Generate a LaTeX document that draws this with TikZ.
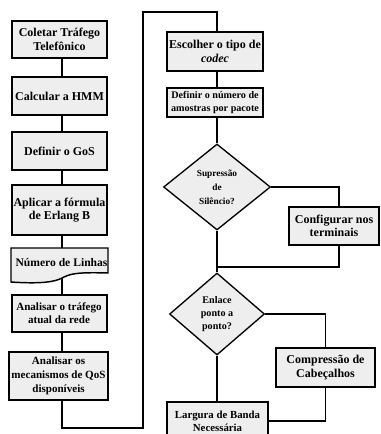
\documentclass[tikz,border=0pt]{standalone}
\usepackage{fontspec}
\setmainfont{Liberation Serif}
\usetikzlibrary{shapes.geometric}
\definecolor{boxfill}{HTML}{EEEEEE}
\tikzset{
  box/.style={draw=black, fill=boxfill, rectangle, inner sep=0pt, align=center, font=\bfseries\fontsize{9}{10}\selectfont},
  lbox/.style={box, line width=1.5pt, minimum width=71.25pt},
  rbox/.style={box, line width=1.1pt},
  dia/.style={draw=black, fill=boxfill, diamond, inner sep=0pt, aspect=1, line width=1pt, align=center},
  conn/.style={line width=1.1pt, black}
}
\begin{document}
\begin{tikzpicture}[x=0.75pt, y=-0.75pt]
\useasboundingbox (0,0) rectangle (380,434);
\clip (0,0) rectangle (380,434);
\coordinate (colL) at (62,0);
\coordinate (colR) at (217,0);
\coordinate (colC1) at (339,0);
\coordinate (loopA) at (143,428);
\coordinate (loopB) at (217,12);
\coordinate (merge) at (217,267);

% left column
\node[lbox, minimum height=27.75pt] (b1) at (59.5,39.5) {Coletar Tráfego\\Telefônico};
\node[lbox, minimum height=28.5pt] (b2) at (59.5,96) {Calcular a HMM};
\node[lbox, minimum height=28.5pt] (b3) at (59.5,151) {Definir o GoS};
\node[lbox, minimum height=37.5pt] (b4) at (59.5,210) {Aplicar a fórmula\\de Erlang B};
\draw[line width=1.1pt, fill=boxfill] (11,248) -- (108,248) -- (108,273)
  .. controls (75,272) and (70,274) .. (62,278)
  .. controls (55,282) and (40,284) .. (11,282) -- cycle;
\node[inner sep=0pt, minimum width=72pt, minimum height=22.5pt, font=\bfseries\fontsize{8.7}{10}\selectfont] (doc) at (61.5,263) {Número de Linhas};
\node[lbox, minimum height=27.75pt, font=\bfseries\fontsize{8.3}{10}\selectfont] (b6) at (59,313.5) {Analisar o tráfego\\atual da rede};
\node[lbox, minimum width=74.25pt, minimum height=36pt, font=\bfseries\fontsize{8.3}{10.5}\selectfont] (b7) at (58.5,376) {Analisar os\\mecanismos de QoS\\disponíveis};

% right column
\node[rbox, minimum width=72pt, minimum height=29.25pt] (r1) at (215,51.5) {Escolher o tipo de\\\textit{codec}};
\node[rbox, minimum width=72pt, minimum height=21.75pt, font=\bfseries\fontsize{7.6}{9.5}\selectfont] (r2) at (215,102.5) {Definir o número de\\amostras por pacote};
\node[dia, minimum width=80.25pt, minimum height=64.5pt, font=\bfseries\fontsize{7}{10.5}\selectfont] (d1) at (217,187) {Supressão\\de\\Silêncio?};
\node[rbox, minimum width=67.5pt, minimum height=28.5pt] (c1) at (334,226) {Configurar nos\\terminais};
\node[dia, minimum width=71.25pt, minimum height=61.5pt, font=\bfseries\fontsize{7.6}{9.8}\selectfont] (d2) at (217,314) {Enlace\\ponto a\\ponto?};
\node[rbox, minimum width=74.25pt, minimum height=29.25pt] (c2) at (325.5,367.5) {Compressão de\\Cabeçalhos};
\node[rbox, minimum width=75.75pt, minimum height=28.5pt, font=\bfseries\fontsize{8.1}{10}\selectfont] (r3) at (217.5,421) {Largura de Banda\\Necessária};

% connectors
\draw[conn] (b1.south -| colL) -- (b2.north -| colL);
\draw[conn] (b2.south -| colL) -- (b3.north -| colL);
\draw[conn] (b3.south -| colL) -- (b4.north -| colL);
\draw[conn] (b4.south -| colL) -- (doc.north -| colL);
\draw[conn] (doc.south -| colL) -- (b6.north -| colL);
\draw[conn] (b6.south -| colL) -- (b7.north -| colL);
\draw[conn] (b7.south -| colL) |- (loopA) |- (loopB) -- (r1.north -| colR);
\draw[conn] (r1.south -| colR) -- (r2.north -| colR);
\draw[conn] (r2.south -| colR) -- (d1.north);
\draw[conn] (d1.east) -| (c1.north -| colC1);
\draw[conn] (c1.south -| colC1) |- (merge);
\draw[conn] (d1.south) -- (d2.north);
\draw[conn] (d2.east) -| (c2.north);
\draw[conn] (c2.south) |- (r3.east);
\draw[conn] (d2.south) -- (r3.north -| colR);
\end{tikzpicture}
\end{document}
